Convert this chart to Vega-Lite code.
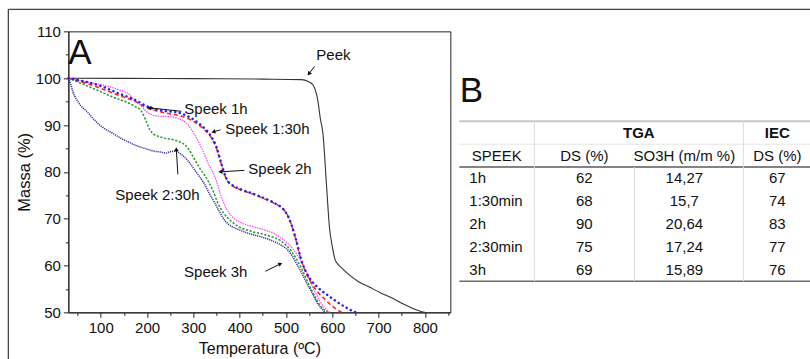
{
  "$schema": "https://vega.github.io/schema/vega-lite/v6.json",
  "background": "white",
  "padding": {"left": 6.35, "top": 7.35, "right": 0, "bottom": 0},
  "bounds": "flush",
  "spacing": 9,
  "config": {
    "font": "Liberation Sans",
    "view": {"stroke": null},
    "axis": {"labelFont": "Liberation Sans", "titleFont": "Liberation Sans", "labelColor": "#111", "titleColor": "#111", "domainColor": "#222", "tickColor": "#222", "grid": false, "domainWidth": 1, "tickWidth": 1, "labelOverlap": false},
    "text": {"font": "Liberation Sans"},
    "locale": {"number": {"decimal": ",", "thousands": ".", "grouping": [3], "currency": ["", ""]}}
  },
  "datasets": {
    "tga": [
      {"series":"Peek","t":30,"m":100},{"series":"Peek","t":150,"m":99.95},{"series":"Peek","t":300,"m":99.9},{"series":"Peek","t":450,"m":99.8},{"series":"Peek","t":533,"m":99.7},{"series":"Peek","t":548,"m":99.3},{"series":"Peek","t":558,"m":98.6},{"series":"Peek","t":563,"m":97.6},{"series":"Peek","t":569,"m":95.1},{"series":"Peek","t":574,"m":91.5},{"series":"Peek","t":580,"m":88.0},{"series":"Peek","t":587,"m":78.0},{"series":"Peek","t":594,"m":68.0},{"series":"Peek","t":600,"m":64.1},{"series":"Peek","t":605,"m":61.6},{"series":"Peek","t":612,"m":60.3},{"series":"Peek","t":620,"m":59.5},{"series":"Peek","t":638,"m":57.9},{"series":"Peek","t":656,"m":56.6},{"series":"Peek","t":680,"m":55.4},{"series":"Peek","t":706,"m":54.1},{"series":"Peek","t":728,"m":53.1},{"series":"Peek","t":749,"m":52.0},{"series":"Peek","t":770,"m":51.0},{"series":"Peek","t":792,"m":50.2},{"series":"Peek","t":800,"m":50.0},
      {"series":"Speek 1h","t":30,"m":100},{"series":"Speek 1h","t":65,"m":99.3},{"series":"Speek 1h","t":101,"m":98.3},{"series":"Speek 1h","t":137,"m":96.8},{"series":"Speek 1h","t":173,"m":95.4},{"series":"Speek 1h","t":202,"m":93.9},{"series":"Speek 1h","t":238,"m":93.0},{"series":"Speek 1h","t":266,"m":92.7},{"series":"Speek 1h","t":285,"m":92.0},{"series":"Speek 1h","t":300,"m":91.2},{"series":"Speek 1h","t":317,"m":89.9},{"series":"Speek 1h","t":328,"m":88.9},{"series":"Speek 1h","t":340,"m":87.3},{"series":"Speek 1h","t":350,"m":85.3},{"series":"Speek 1h","t":356,"m":83.3},{"series":"Speek 1h","t":363,"m":80.9},{"series":"Speek 1h","t":371,"m":78.6},{"series":"Speek 1h","t":385,"m":77.1},{"series":"Speek 1h","t":404,"m":76.2},{"series":"Speek 1h","t":430,"m":75.3},{"series":"Speek 1h","t":447,"m":74.6},{"series":"Speek 1h","t":476,"m":73.3},{"series":"Speek 1h","t":497,"m":71.7},{"series":"Speek 1h","t":505,"m":70.4},{"series":"Speek 1h","t":512,"m":68.7},{"series":"Speek 1h","t":522,"m":65.4},{"series":"Speek 1h","t":533,"m":61.2},{"series":"Speek 1h","t":544,"m":58.5},{"series":"Speek 1h","t":553,"m":57.0},{"series":"Speek 1h","t":562,"m":56.0},{"series":"Speek 1h","t":576,"m":54.7},{"series":"Speek 1h","t":591,"m":53.6},{"series":"Speek 1h","t":605,"m":52.6},{"series":"Speek 1h","t":620,"m":51.6},{"series":"Speek 1h","t":634,"m":50.8},{"series":"Speek 1h","t":648,"m":50.1},{"series":"Speek 1h","t":652,"m":50.0},
      {"series":"Speek 1:30h","t":30,"m":100},{"series":"Speek 1:30h","t":65,"m":99.0},{"series":"Speek 1:30h","t":101,"m":97.8},{"series":"Speek 1:30h","t":137,"m":96.4},{"series":"Speek 1:30h","t":173,"m":95.1},{"series":"Speek 1:30h","t":202,"m":93.6},{"series":"Speek 1:30h","t":238,"m":92.6},{"series":"Speek 1:30h","t":266,"m":92.1},{"series":"Speek 1:30h","t":288,"m":91.4},{"series":"Speek 1:30h","t":300,"m":90.8},{"series":"Speek 1:30h","t":317,"m":89.6},{"series":"Speek 1:30h","t":328,"m":88.6},{"series":"Speek 1:30h","t":340,"m":87.1},{"series":"Speek 1:30h","t":350,"m":85.0},{"series":"Speek 1:30h","t":356,"m":83.1},{"series":"Speek 1:30h","t":363,"m":80.8},{"series":"Speek 1:30h","t":371,"m":78.5},{"series":"Speek 1:30h","t":385,"m":77.0},{"series":"Speek 1:30h","t":404,"m":76.1},{"series":"Speek 1:30h","t":430,"m":75.2},{"series":"Speek 1:30h","t":447,"m":74.5},{"series":"Speek 1:30h","t":476,"m":73.2},{"series":"Speek 1:30h","t":497,"m":71.7},{"series":"Speek 1:30h","t":505,"m":70.4},{"series":"Speek 1:30h","t":512,"m":68.6},{"series":"Speek 1:30h","t":522,"m":65.3},{"series":"Speek 1:30h","t":533,"m":61.1},{"series":"Speek 1:30h","t":544,"m":58.3},{"series":"Speek 1:30h","t":553,"m":56.6},{"series":"Speek 1:30h","t":562,"m":55.2},{"series":"Speek 1:30h","t":569,"m":54.3},{"series":"Speek 1:30h","t":584,"m":52.8},{"series":"Speek 1:30h","t":598,"m":51.5},{"series":"Speek 1:30h","t":610,"m":50.6},{"series":"Speek 1:30h","t":620,"m":50.0},
      {"series":"Speek 2h","t":30,"m":100},{"series":"Speek 2h","t":65,"m":99.3},{"series":"Speek 2h","t":101,"m":98.6},{"series":"Speek 2h","t":137,"m":97.6},{"series":"Speek 2h","t":162,"m":96.5},{"series":"Speek 2h","t":173,"m":95.2},{"series":"Speek 2h","t":188,"m":94.0},{"series":"Speek 2h","t":202,"m":92.6},{"series":"Speek 2h","t":224,"m":91.9},{"series":"Speek 2h","t":245,"m":91.8},{"series":"Speek 2h","t":267,"m":91.4},{"series":"Speek 2h","t":285,"m":90.4},{"series":"Speek 2h","t":303,"m":87.9},{"series":"Speek 2h","t":321,"m":84.4},{"series":"Speek 2h","t":335,"m":81.2},{"series":"Speek 2h","t":342,"m":79.9},{"series":"Speek 2h","t":350,"m":78.0},{"series":"Speek 2h","t":360,"m":74.8},{"series":"Speek 2h","t":371,"m":72.2},{"series":"Speek 2h","t":382,"m":70.6},{"series":"Speek 2h","t":404,"m":69.1},{"series":"Speek 2h","t":440,"m":68.0},{"series":"Speek 2h","t":476,"m":66.7},{"series":"Speek 2h","t":497,"m":65.3},{"series":"Speek 2h","t":519,"m":63.0},{"series":"Speek 2h","t":540,"m":59.5},{"series":"Speek 2h","t":562,"m":54.5},{"series":"Speek 2h","t":583,"m":51.0},{"series":"Speek 2h","t":594,"m":50.0},
      {"series":"Speek 2:30h","t":30,"m":100},{"series":"Speek 2:30h","t":72,"m":98.3},{"series":"Speek 2:30h","t":123,"m":96.1},{"series":"Speek 2:30h","t":173,"m":94.0},{"series":"Speek 2:30h","t":188,"m":92.9},{"series":"Speek 2:30h","t":198,"m":90.8},{"series":"Speek 2:30h","t":206,"m":89.0},{"series":"Speek 2:30h","t":215,"m":88.0},{"series":"Speek 2:30h","t":224,"m":87.6},{"series":"Speek 2:30h","t":238,"m":87.2},{"series":"Speek 2:30h","t":263,"m":86.7},{"series":"Speek 2:30h","t":288,"m":85.1},{"series":"Speek 2:30h","t":303,"m":82.6},{"series":"Speek 2:30h","t":315,"m":80.6},{"series":"Speek 2:30h","t":324,"m":79.3},{"series":"Speek 2:30h","t":332,"m":78.0},{"series":"Speek 2:30h","t":343,"m":75.8},{"series":"Speek 2:30h","t":353,"m":73.3},{"series":"Speek 2:30h","t":365,"m":71.2},{"series":"Speek 2:30h","t":375,"m":70.1},{"series":"Speek 2:30h","t":396,"m":68.4},{"series":"Speek 2:30h","t":425,"m":67.3},{"series":"Speek 2:30h","t":461,"m":66.4},{"series":"Speek 2:30h","t":490,"m":65.2},{"series":"Speek 2:30h","t":512,"m":63.0},{"series":"Speek 2:30h","t":533,"m":59.5},{"series":"Speek 2:30h","t":555,"m":54.8},{"series":"Speek 2:30h","t":576,"m":51.2},{"series":"Speek 2:30h","t":591,"m":50.0},
      {"series":"Speek 3h","t":30,"m":100},{"series":"Speek 3h","t":35,"m":98.8},{"series":"Speek 3h","t":40,"m":97.0},{"series":"Speek 3h","t":47,"m":95.6},{"series":"Speek 3h","t":58,"m":94.0},{"series":"Speek 3h","t":70,"m":92.9},{"series":"Speek 3h","t":87,"m":91.0},{"series":"Speek 3h","t":110,"m":89.1},{"series":"Speek 3h","t":123,"m":88.4},{"series":"Speek 3h","t":141,"m":87.3},{"series":"Speek 3h","t":159,"m":86.4},{"series":"Speek 3h","t":177,"m":85.6},{"series":"Speek 3h","t":195,"m":85.0},{"series":"Speek 3h","t":216,"m":84.4},{"series":"Speek 3h","t":231,"m":84.2},{"series":"Speek 3h","t":240,"m":84.0},{"series":"Speek 3h","t":250,"m":84.3},{"series":"Speek 3h","t":260,"m":84.4},{"series":"Speek 3h","t":274,"m":83.7},{"series":"Speek 3h","t":288,"m":82.4},{"series":"Speek 3h","t":300,"m":80.8},{"series":"Speek 3h","t":313,"m":79.0},{"series":"Speek 3h","t":324,"m":77.4},{"series":"Speek 3h","t":335,"m":75.3},{"series":"Speek 3h","t":346,"m":73.4},{"series":"Speek 3h","t":358,"m":71.2},{"series":"Speek 3h","t":368,"m":69.6},{"series":"Speek 3h","t":380,"m":68.5},{"series":"Speek 3h","t":395,"m":67.8},{"series":"Speek 3h","t":418,"m":66.9},{"series":"Speek 3h","t":447,"m":66.1},{"series":"Speek 3h","t":470,"m":65.3},{"series":"Speek 3h","t":490,"m":64.3},{"series":"Speek 3h","t":505,"m":63.2},{"series":"Speek 3h","t":515,"m":61.8},{"series":"Speek 3h","t":525,"m":60.0},{"series":"Speek 3h","t":533,"m":58.6},{"series":"Speek 3h","t":544,"m":56.4},{"series":"Speek 3h","t":555,"m":54.4},{"series":"Speek 3h","t":569,"m":51.8},{"series":"Speek 3h","t":577,"m":50.8},{"series":"Speek 3h","t":584,"m":50.0}
    ],
    "notes": [
      {"label":"Peek","t":565.6,"m":104.9},
      {"label":"Speek 1h","t":280.5,"m":93.45},
      {"label":"Speek 1:30h","t":369.1,"m":89.07},
      {"label":"Speek 2h","t":418.7,"m":80.64},
      {"label":"Speek 2:30h","t":131.5,"m":74.98},
      {"label":"Speek 3h","t":279.9,"m":58.65}
    ],
    "panels": [
      {"panel":"A","t":30,"m":110}
    ],
    "arrows": [
      {"label":"Peek","t":549.4,"m":100.93,"t0":561.9,"m0":102.53},
      {"label":"Speek 1h","t":204.9,"m":93.67,"t0":274.0,"m0":92.92},
      {"label":"Speek 1:30h","t":343.2,"m":88.54,"t0":358.3,"m0":88.97},
      {"label":"Speek 2h","t":358.3,"m":80.0,"t0":410.1,"m0":80.32},
      {"label":"Speek 2:30h","t":263.2,"m":84.8,"t0":266.5,"m0":79.47},
      {"label":"Speek 3h","t":487.9,"m":60.36,"t0":455.5,"m0":58.76}
    ],
    "head": [
      {"row":"h1","col":"TGA","label":"TGA"},
      {"row":"h1","col":"IEC","label":"IEC"},
      {"row":"h2","col":"speek","label":"SPEEK"},
      {"row":"h2","col":"ds_tga","label":"DS (%)"},
      {"row":"h2","col":"so3h","label":"SO3H (m/m %)"},
      {"row":"h2","col":"ds_iec","label":"DS (%)"}
    ],
    "table": [
      {"row":"1h","ds_tga":62,"so3h":14.27,"ds_iec":67},
      {"row":"1:30min","ds_tga":68,"so3h":15.7,"ds_iec":74},
      {"row":"2h","ds_tga":90,"so3h":20.64,"ds_iec":83},
      {"row":"2:30min","ds_tga":75,"so3h":17.24,"ds_iec":77},
      {"row":"3h","ds_tga":69,"so3h":15.89,"ds_iec":76}
    ]
  },
  "hconcat": [
    {
      "width": 382,
      "height": 281,
      "view": {"stroke": "#222", "strokeWidth": 1},
      "layer": [
        {
          "encoding": {
            "x": {"field": "t", "type": "quantitative", "scale": {"domain": [30, 855], "nice": false, "zero": false},
              "axis": {"title": "Temperatura (ºC)", "values": [50,100,150,200,250,300,350,400,450,500,550,600,650,700,750,800,850], "labelExpr": "datum.value % 100 === 0 ? datum.label : ''", "tickSize": {"condition": {"test": "datum.value % 100 === 0", "value": 5}, "value": 3}, "labelFontSize": 15, "labelPadding": 3, "labelOverlap": false, "labelFlush": false, "titleFontSize": 16, "titleFontWeight": "normal", "titlePadding": 5}},
            "y": {"field": "m", "type": "quantitative", "scale": {"domain": [50, 110], "nice": false, "zero": false},
              "axis": {"title": "Massa (%)", "values": [50,55,60,65,70,75,80,85,90,95,100,105,110], "labelExpr": "datum.value % 10 === 0 ? datum.label : ''", "tickSize": {"condition": {"test": "datum.value % 10 === 0", "value": 5}, "value": 3}, "labelFontSize": 15, "labelPadding": 3, "labelOverlap": false, "labelFlush": false, "titleFontSize": 16.5, "titleFontWeight": "normal", "titlePadding": 3}}
          },
          "layer": [
            {"data": {"name": "tga"}, "transform": [{"filter": "datum.series === 'Peek'"}], "mark": {"type": "line", "color": "#333333", "strokeWidth": 1.1, "interpolate": "monotone"}},
            {"data": {"name": "tga"}, "transform": [{"filter": "datum.series === 'Speek 3h'"}], "mark": {"type": "line", "color": "#33339c", "strokeWidth": 1.5, "strokeDash": [1.2, 0.9], "interpolate": "monotone"}},
            {"data": {"name": "tga"}, "transform": [{"filter": "datum.series === 'Speek 2:30h'"}], "mark": {"type": "line", "color": "#27992b", "strokeWidth": 1.5, "strokeDash": [2.2, 1.6], "interpolate": "monotone"}},
            {"data": {"name": "tga"}, "transform": [{"filter": "datum.series === 'Speek 2h'"}], "mark": {"type": "line", "color": "#ff40ff", "strokeWidth": 1.2, "strokeDash": [1.5, 1], "interpolate": "monotone"}},
            {"data": {"name": "tga"}, "transform": [{"filter": "datum.series === 'Speek 1:30h'"}], "mark": {"type": "line", "color": "#ff2020", "strokeWidth": 1.6, "strokeDash": [4, 3], "interpolate": "monotone"}},
            {"data": {"name": "tga"}, "transform": [{"filter": "datum.series === 'Speek 1h'"}], "mark": {"type": "line", "color": "#2020ff", "strokeWidth": 2.5, "strokeDash": [0.1, 4.6], "strokeCap": "round", "interpolate": "monotone"}},
            {"data": {"name": "notes"}, "mark": {"type": "text", "align": "left", "baseline": "middle", "fontSize": 15, "color": "#111"}, "encoding": {"text": {"field": "label"}}},
            {"data": {"name": "arrows"}, "mark": {"type": "rule", "color": "#111", "strokeWidth": 1}, "encoding": {"x2": {"field": "t0"}, "y2": {"field": "m0"}}},
            {"data": {"name": "arrows"}, "transform": [{"filter": "datum.label === 'Peek'"}], "mark": {"type": "point", "shape": "triangle-up", "filled": true, "size": 22, "angle": 218, "color": "#111", "opacity": 1}},
            {"data": {"name": "arrows"}, "transform": [{"filter": "datum.label === 'Speek 1h'"}], "mark": {"type": "point", "shape": "triangle-up", "filled": true, "size": 22, "angle": 276, "color": "#111", "opacity": 1}},
            {"data": {"name": "arrows"}, "transform": [{"filter": "datum.label === 'Speek 1:30h'"}], "mark": {"type": "point", "shape": "triangle-up", "filled": true, "size": 22, "angle": 254, "color": "#111", "opacity": 1}},
            {"data": {"name": "arrows"}, "transform": [{"filter": "datum.label === 'Speek 2h'"}], "mark": {"type": "point", "shape": "triangle-up", "filled": true, "size": 22, "angle": 266, "color": "#111", "opacity": 1}},
            {"data": {"name": "arrows"}, "transform": [{"filter": "datum.label === 'Speek 2:30h'"}], "mark": {"type": "point", "shape": "triangle-up", "filled": true, "size": 22, "angle": 357, "color": "#111", "opacity": 1}},
            {"data": {"name": "arrows"}, "transform": [{"filter": "datum.label === 'Speek 3h'"}], "mark": {"type": "point", "shape": "triangle-up", "filled": true, "size": 22, "angle": 63, "color": "#111", "opacity": 1}},
            {"data": {"name": "panels"}, "mark": {"type": "text", "align": "left", "baseline": "top", "dy": 5, "fontSize": 35, "color": "#111"}, "encoding": {"text": {"field": "panel"}}}
          ]
        },
        {"data": {"values": [{"frame": "figure"}]}, "mark": {"type": "rule", "color": "#444", "strokeWidth": 1.3},
          "encoding": {
            "x": {"datum": -99.58, "type": "quantitative", "axis": {"title": "Temperatura (ºC)", "values": [50,100,150,200,250,300,350,400,450,500,550,600,650,700,750,800,850], "labelExpr": "datum.value % 100 === 0 ? datum.label : ''", "tickSize": {"condition": {"test": "datum.value % 100 === 0", "value": 5}, "value": 3}, "labelFontSize": 15, "labelPadding": 3, "labelOverlap": false, "labelFlush": false, "titleFontSize": 16, "titleFontWeight": "normal", "titlePadding": 5}},
            "x2": {"datum": 1634.65},
            "y": {"datum": 114.7, "type": "quantitative", "axis": {"title": "Massa (%)", "values": [50,55,60,65,70,75,80,85,90,95,100,105,110], "labelExpr": "datum.value % 10 === 0 ? datum.label : ''", "tickSize": {"condition": {"test": "datum.value % 10 === 0", "value": 5}, "value": 3}, "labelFontSize": 15, "labelPadding": 3, "labelOverlap": false, "labelFlush": false, "titleFontSize": 16.5, "titleFontWeight": "normal", "titlePadding": 3}}
          }},
        {"data": {"values": [{"frame": "figure"}]}, "mark": {"type": "rule", "color": "#444", "strokeWidth": 1.3},
          "encoding": {
            "x": {"datum": -99.58, "type": "quantitative", "axis": {"title": "Temperatura (ºC)", "values": [50,100,150,200,250,300,350,400,450,500,550,600,650,700,750,800,850], "labelExpr": "datum.value % 100 === 0 ? datum.label : ''", "tickSize": {"condition": {"test": "datum.value % 100 === 0", "value": 5}, "value": 3}, "labelFontSize": 15, "labelPadding": 3, "labelOverlap": false, "labelFlush": false, "titleFontSize": 16, "titleFontWeight": "normal", "titlePadding": 5}},
            "y": {"datum": 114.7, "type": "quantitative", "axis": {"title": "Massa (%)", "values": [50,55,60,65,70,75,80,85,90,95,100,105,110], "labelExpr": "datum.value % 10 === 0 ? datum.label : ''", "tickSize": {"condition": {"test": "datum.value % 10 === 0", "value": 5}, "value": 3}, "labelFontSize": 15, "labelPadding": 3, "labelOverlap": false, "labelFlush": false, "titleFontSize": 16.5, "titleFontWeight": "normal", "titlePadding": 3}},
            "y2": {"datum": 39.75}
          }}
      ]
    },
    {
      "spacing": 0,
      "bounds": "flush",
      "vconcat": [
        {
          "width": 75,
          "height": 90,
          "data": {"values": [{"panel": "B"}]},
          "mark": {"type": "text", "align": "left", "baseline": "alphabetic", "dx": -37, "dy": 26, "fontSize": 35, "color": "#111"},
          "encoding": {"text": {"field": "panel"}}
        },
        {
          "spacing": 0,
          "bounds": "flush",
          "hconcat": [
            {
              "width": 75,
              "height": 160,
              "layer": [
                {"data": {"name": "head"}, "transform": [{"filter": "datum.col === 'TGA'"}], "mark": {"type": "rule", "color": "#c6c6c6", "strokeWidth": 2}, "encoding": {"y": {"field": "row", "type": "nominal", "bandPosition": 0, "scale": {"domain": ["h1","h2","1h","1:30min","2h","2:30min","3h"], "paddingInner": 0, "paddingOuter": 0}, "axis": null}}},
                {"data": {"name": "head"}, "transform": [{"filter": "datum.col === 'speek'"}], "mark": {"type": "rule", "color": "#e6e6e6", "strokeWidth": 1}, "encoding": {"y": {"field": "row", "type": "nominal", "bandPosition": 0, "scale": {"domain": ["h1","h2","1h","1:30min","2h","2:30min","3h"], "paddingInner": 0, "paddingOuter": 0}, "axis": null}}},
                {"data": {"name": "table"}, "transform": [{"filter": "datum.row === '1h'"}], "mark": {"type": "rule", "color": "#5a5a5a", "strokeWidth": 1.5}, "encoding": {"y": {"field": "row", "type": "nominal", "bandPosition": 0, "scale": {"domain": ["h1","h2","1h","1:30min","2h","2:30min","3h"], "paddingInner": 0, "paddingOuter": 0}, "axis": null}}},
                {"data": {"name": "table"}, "transform": [{"filter": "datum.row === '3h'"}], "mark": {"type": "rule", "color": "#6a6a6a", "strokeWidth": 1.5}, "encoding": {"y": {"field": "row", "type": "nominal", "bandPosition": 1, "scale": {"domain": ["h1","h2","1h","1:30min","2h","2:30min","3h"], "paddingInner": 0, "paddingOuter": 0}, "axis": null}}},
                {"data": {"name": "head"}, "transform": [{"filter": "datum.col === 'speek'"}], "mark": {"type": "text", "fontSize": 15, "color": "#111"}, "encoding": {"y": {"field": "row", "type": "nominal", "scale": {"domain": ["h1","h2","1h","1:30min","2h","2:30min","3h"], "paddingInner": 0, "paddingOuter": 0}, "axis": null}, "text": {"field": "label"}}},
                {"data": {"name": "table"}, "mark": {"type": "text", "align": "left", "dx": -27.5, "fontSize": 15, "color": "#111"}, "encoding": {"y": {"field": "row", "type": "nominal", "scale": {"domain": ["h1","h2","1h","1:30min","2h","2:30min","3h"], "paddingInner": 0, "paddingOuter": 0}, "axis": null}, "text": {"field": "row"}}}
              ]
            },
            {
              "width": 209,
              "height": 160,
              "layer": [
                {"data": {"name": "head"}, "transform": [{"filter": "datum.col === 'TGA'"}], "mark": {"type": "rule", "color": "#c6c6c6", "strokeWidth": 2}, "encoding": {"y": {"field": "row", "type": "nominal", "bandPosition": 0, "scale": {"domain": ["h1","h2","1h","1:30min","2h","2:30min","3h"], "paddingInner": 0, "paddingOuter": 0}, "axis": null}}},
                {"data": {"name": "head"}, "transform": [{"filter": "datum.col === 'speek'"}], "mark": {"type": "rule", "color": "#e6e6e6", "strokeWidth": 1}, "encoding": {"y": {"field": "row", "type": "nominal", "bandPosition": 0, "scale": {"domain": ["h1","h2","1h","1:30min","2h","2:30min","3h"], "paddingInner": 0, "paddingOuter": 0}, "axis": null}}},
                {"data": {"name": "table"}, "transform": [{"filter": "datum.row === '1h'"}], "mark": {"type": "rule", "color": "#5a5a5a", "strokeWidth": 1.5}, "encoding": {"y": {"field": "row", "type": "nominal", "bandPosition": 0, "scale": {"domain": ["h1","h2","1h","1:30min","2h","2:30min","3h"], "paddingInner": 0, "paddingOuter": 0}, "axis": null}}},
                {"data": {"name": "table"}, "transform": [{"filter": "datum.row === '3h'"}], "mark": {"type": "rule", "color": "#6a6a6a", "strokeWidth": 1.5}, "encoding": {"y": {"field": "row", "type": "nominal", "bandPosition": 1, "scale": {"domain": ["h1","h2","1h","1:30min","2h","2:30min","3h"], "paddingInner": 0, "paddingOuter": 0}, "axis": null}}},
                {"data": {"name": "head"}, "transform": [{"filter": "datum.col === 'TGA'"}], "mark": {"type": "rule", "color": "#dadada", "strokeWidth": 1}, "encoding": {"x": {"datum": "ds_tga", "type": "nominal", "bandPosition": 0, "scale": {"domain": ["ds_tga", "so3h"], "paddingInner": 0, "paddingOuter": 0.045, "align": 0}, "axis": null}, "y": {"field": "row", "type": "nominal", "bandPosition": 0, "scale": {"domain": ["h1","h2","1h","1:30min","2h","2:30min","3h"], "paddingInner": 0, "paddingOuter": 0}, "axis": null}, "y2": {"value": "height"}}},
                {"data": {"name": "table"}, "transform": [{"filter": "datum.row === '1h'"}], "mark": {"type": "rule", "color": "#dadada", "strokeWidth": 1}, "encoding": {"x": {"datum": "so3h", "type": "nominal", "bandPosition": 0, "scale": {"domain": ["ds_tga", "so3h"], "paddingInner": 0, "paddingOuter": 0.045, "align": 0}, "axis": null}, "y": {"field": "row", "type": "nominal", "bandPosition": 0, "scale": {"domain": ["h1","h2","1h","1:30min","2h","2:30min","3h"], "paddingInner": 0, "paddingOuter": 0}, "axis": null}, "y2": {"value": "height"}}},
                {"data": {"name": "head"}, "transform": [{"filter": "datum.col === 'TGA'"}], "mark": {"type": "text", "fontSize": 15, "fontWeight": "bold", "color": "#111"}, "encoding": {"y": {"field": "row", "type": "nominal", "scale": {"domain": ["h1","h2","1h","1:30min","2h","2:30min","3h"], "paddingInner": 0, "paddingOuter": 0}, "axis": null}, "text": {"field": "label"}}},
                {"data": {"name": "head"}, "transform": [{"filter": "datum.col === 'ds_tga' || datum.col === 'so3h'"}], "mark": {"type": "text", "fontSize": 15, "color": "#111"}, "encoding": {"x": {"field": "col", "type": "nominal", "scale": {"domain": ["ds_tga", "so3h"], "paddingInner": 0, "paddingOuter": 0.045, "align": 0}, "axis": null}, "y": {"field": "row", "type": "nominal", "scale": {"domain": ["h1","h2","1h","1:30min","2h","2:30min","3h"], "paddingInner": 0, "paddingOuter": 0}, "axis": null}, "text": {"field": "label"}}},
                {"data": {"name": "table"}, "transform": [{"fold": ["ds_tga", "so3h"], "as": ["col", "val"]}], "mark": {"type": "text", "fontSize": 15, "color": "#111"}, "encoding": {"x": {"field": "col", "type": "nominal", "scale": {"domain": ["ds_tga", "so3h"], "paddingInner": 0, "paddingOuter": 0.045, "align": 0}, "axis": null}, "y": {"field": "row", "type": "nominal", "scale": {"domain": ["h1","h2","1h","1:30min","2h","2:30min","3h"], "paddingInner": 0, "paddingOuter": 0}, "axis": null}, "text": {"field": "val", "type": "quantitative", "format": "~f"}}}
              ]
            },
            {
              "width": 68,
              "height": 160,
              "layer": [
                {"data": {"name": "head"}, "transform": [{"filter": "datum.col === 'TGA'"}], "mark": {"type": "rule", "color": "#c6c6c6", "strokeWidth": 2}, "encoding": {"y": {"field": "row", "type": "nominal", "bandPosition": 0, "scale": {"domain": ["h1","h2","1h","1:30min","2h","2:30min","3h"], "paddingInner": 0, "paddingOuter": 0}, "axis": null}}},
                {"data": {"name": "head"}, "transform": [{"filter": "datum.col === 'speek'"}], "mark": {"type": "rule", "color": "#e6e6e6", "strokeWidth": 1}, "encoding": {"y": {"field": "row", "type": "nominal", "bandPosition": 0, "scale": {"domain": ["h1","h2","1h","1:30min","2h","2:30min","3h"], "paddingInner": 0, "paddingOuter": 0}, "axis": null}}},
                {"data": {"name": "table"}, "transform": [{"filter": "datum.row === '1h'"}], "mark": {"type": "rule", "color": "#5a5a5a", "strokeWidth": 1.5}, "encoding": {"y": {"field": "row", "type": "nominal", "bandPosition": 0, "scale": {"domain": ["h1","h2","1h","1:30min","2h","2:30min","3h"], "paddingInner": 0, "paddingOuter": 0}, "axis": null}}},
                {"data": {"name": "table"}, "transform": [{"filter": "datum.row === '3h'"}], "mark": {"type": "rule", "color": "#6a6a6a", "strokeWidth": 1.5}, "encoding": {"y": {"field": "row", "type": "nominal", "bandPosition": 1, "scale": {"domain": ["h1","h2","1h","1:30min","2h","2:30min","3h"], "paddingInner": 0, "paddingOuter": 0}, "axis": null}}},
                {"data": {"name": "head"}, "transform": [{"filter": "datum.col === 'IEC'"}], "mark": {"type": "rule", "color": "#dadada", "strokeWidth": 1}, "encoding": {"x": {"datum": "ds_iec", "type": "nominal", "bandPosition": 0, "scale": {"domain": ["ds_iec"], "paddingInner": 0, "paddingOuter": 0}, "axis": null}, "y": {"field": "row", "type": "nominal", "bandPosition": 0, "scale": {"domain": ["h1","h2","1h","1:30min","2h","2:30min","3h"], "paddingInner": 0, "paddingOuter": 0}, "axis": null}, "y2": {"value": "height"}}},
                {"data": {"name": "head"}, "transform": [{"filter": "datum.col === 'IEC'"}], "mark": {"type": "text", "fontSize": 15, "fontWeight": "bold", "color": "#111"}, "encoding": {"y": {"field": "row", "type": "nominal", "scale": {"domain": ["h1","h2","1h","1:30min","2h","2:30min","3h"], "paddingInner": 0, "paddingOuter": 0}, "axis": null}, "text": {"field": "label"}}},
                {"data": {"name": "head"}, "transform": [{"filter": "datum.col === 'ds_iec'"}], "mark": {"type": "text", "fontSize": 15, "color": "#111"}, "encoding": {"y": {"field": "row", "type": "nominal", "scale": {"domain": ["h1","h2","1h","1:30min","2h","2:30min","3h"], "paddingInner": 0, "paddingOuter": 0}, "axis": null}, "text": {"field": "label"}}},
                {"data": {"name": "table"}, "mark": {"type": "text", "fontSize": 15, "color": "#111"}, "encoding": {"y": {"field": "row", "type": "nominal", "scale": {"domain": ["h1","h2","1h","1:30min","2h","2:30min","3h"], "paddingInner": 0, "paddingOuter": 0}, "axis": null}, "text": {"field": "ds_iec", "type": "quantitative"}}}
              ]
            }
          ]
        }
      ]
    }
  ]
}
